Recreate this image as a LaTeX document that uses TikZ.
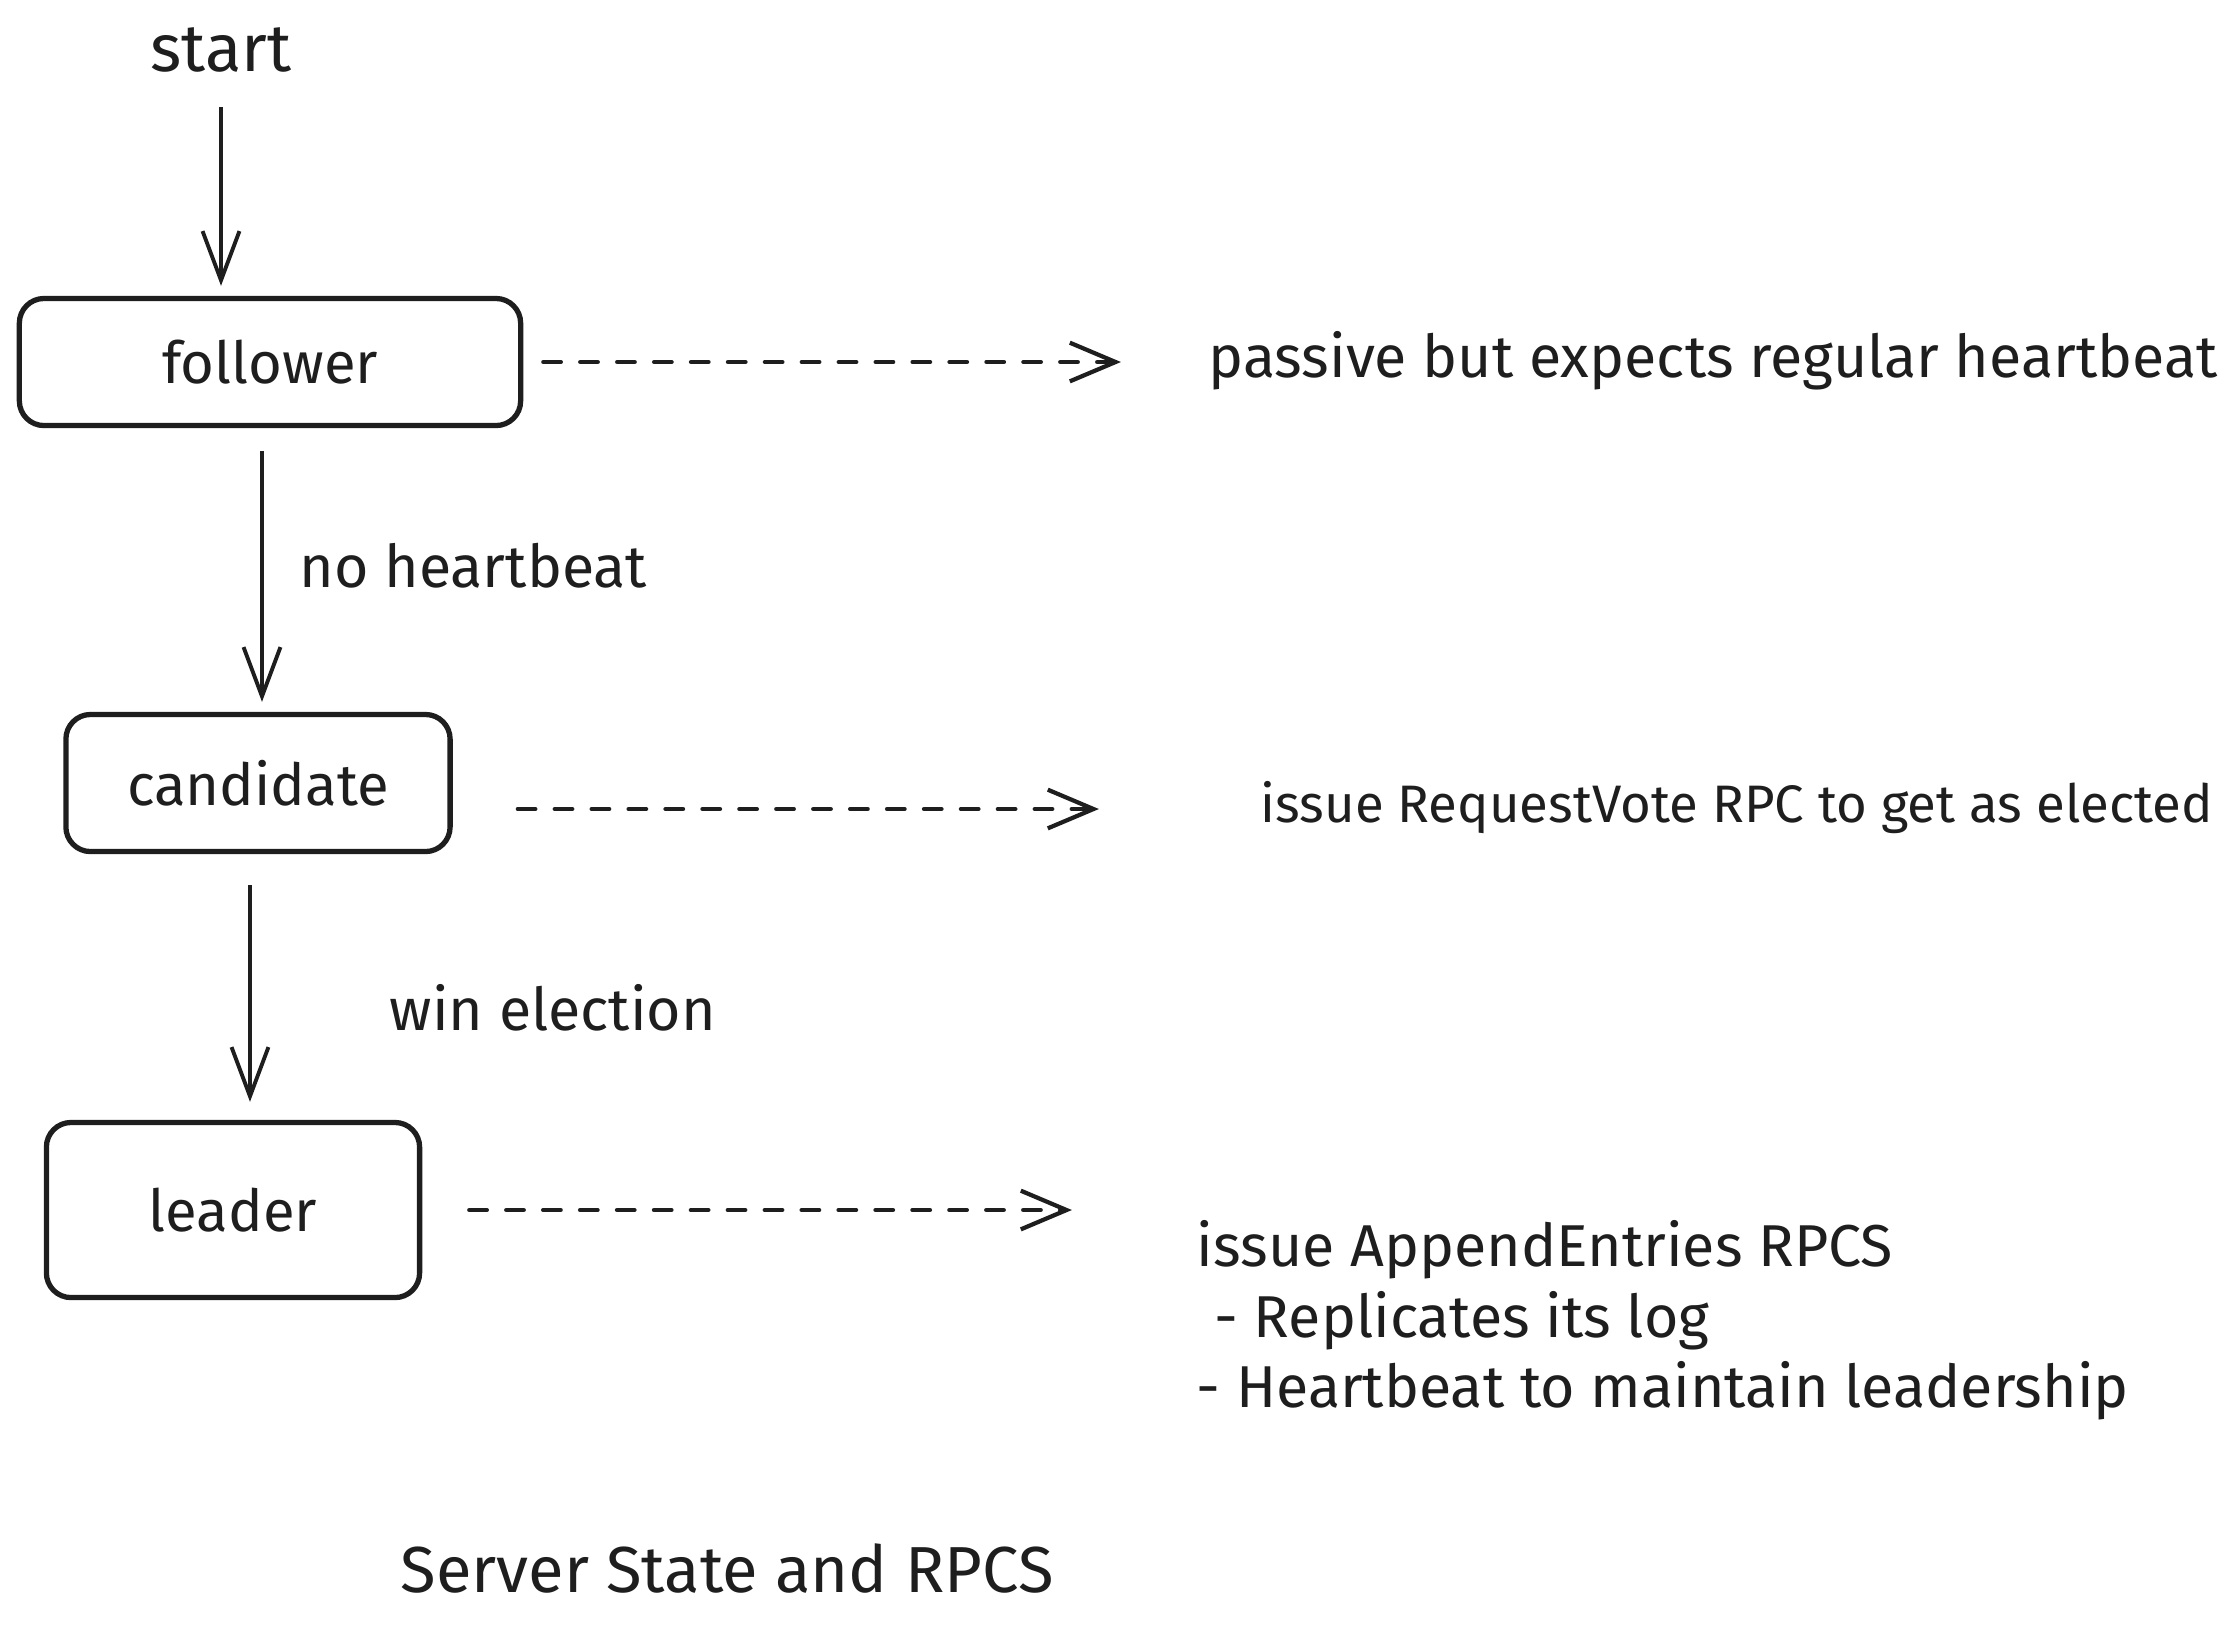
\documentclass[tikz,border=0pt]{standalone}
\usepackage{fontspec}
\setmainfont{Fira Sans}
\usepackage{tikz}
\usetikzlibrary{arrows.meta, positioning}
\definecolor{inkdark}{RGB}{30,30,30}

\begin{document}
\begin{tikzpicture}[x=0.01cm, y=-0.01cm,
    statebox/.style={draw=inkdark, line width=1.5pt, rounded corners=7pt, inner sep=0pt,
                     font=\fontsize{16.5}{20}\selectfont, text=inkdark},
    flow/.style={draw=inkdark, line width=1.1pt, -{Straight Barb[length=14pt, width=10.5pt]}},
    sideflow/.style={draw=inkdark, line width=1.2pt, line cap=round, dash pattern=on 5pt off 5.5pt,
                     -{Straight Barb[length=13pt, width=11pt]}},
    txt/.style={text=inkdark, inner sep=0pt, font=\fontsize{16.8}{20}\selectfont},
    smalltxt/.style={txt, font=\fontsize{15}{18}\selectfont}]
  \useasboundingbox (0,0) rectangle (2233,1632);

  \node[txt, anchor=base, font=\fontsize{19}{22}\selectfont] (start) at (221,71) {start};
  \coordinate (startfoot) at (221,107);

  \node[statebox, minimum width=5.01cm, minimum height=1.27cm] (follower) at (270,362) {follower};
  \node[statebox, minimum width=3.84cm, minimum height=1.37cm] (candidate) at (258,783) {candidate};
  \node[statebox, minimum width=3.73cm, minimum height=1.75cm] (leader) at (233,1210) {leader};

  \node[txt, anchor=base west] (passive) at (1208,377) {passive but expects regular heartbeat};
  \node[smalltxt, anchor=base west] (reqvote) at (1260,822) {issue RequestVote RPC to get as elected};
  \node[txt, anchor=north west, align=left] (append) at (1196,1220)
    {issue AppendEntries RPCS\\ \hspace{0.3em}- Replicates its log\\- Heartbeat to maintain leadership};

  \node[txt, anchor=base west] (noheart) at (299,587) {no heartbeat};
  \node[txt, anchor=base west] (winelect) at (389,1030) {win election};
  \node[txt, anchor=base west, font=\fontsize{18.5}{22}\selectfont] (caption) at (400,1592) {Server State and RPCS};

  \draw[flow, shorten >=0.1cm] (startfoot) -- (startfoot |- follower.north);
  \draw[flow, shorten <=0.23cm, shorten >=0.1cm]
    ([xshift=-0.08cm]follower.south) -- ([xshift=-0.08cm]follower.south |- candidate.north);
  \draw[flow, shorten <=0.31cm, shorten >=0.18cm]
    ([xshift=-0.08cm]candidate.south) -- ([xshift=-0.08cm]candidate.south |- leader.north);

  \draw[sideflow, shorten <=0.2cm, shorten >=0.87cm] (follower.east) -- (follower.east -| passive.west);
  \draw[sideflow, shorten <=0.65cm, shorten >=1.61cm] (candidate.east |- 0,809) -- (reqvote.west |- 0,809);
  \draw[sideflow, shorten <=0.47cm, shorten >=1.24cm] (leader.east) -- (leader.east -| append.west);
\end{tikzpicture}
\end{document}
